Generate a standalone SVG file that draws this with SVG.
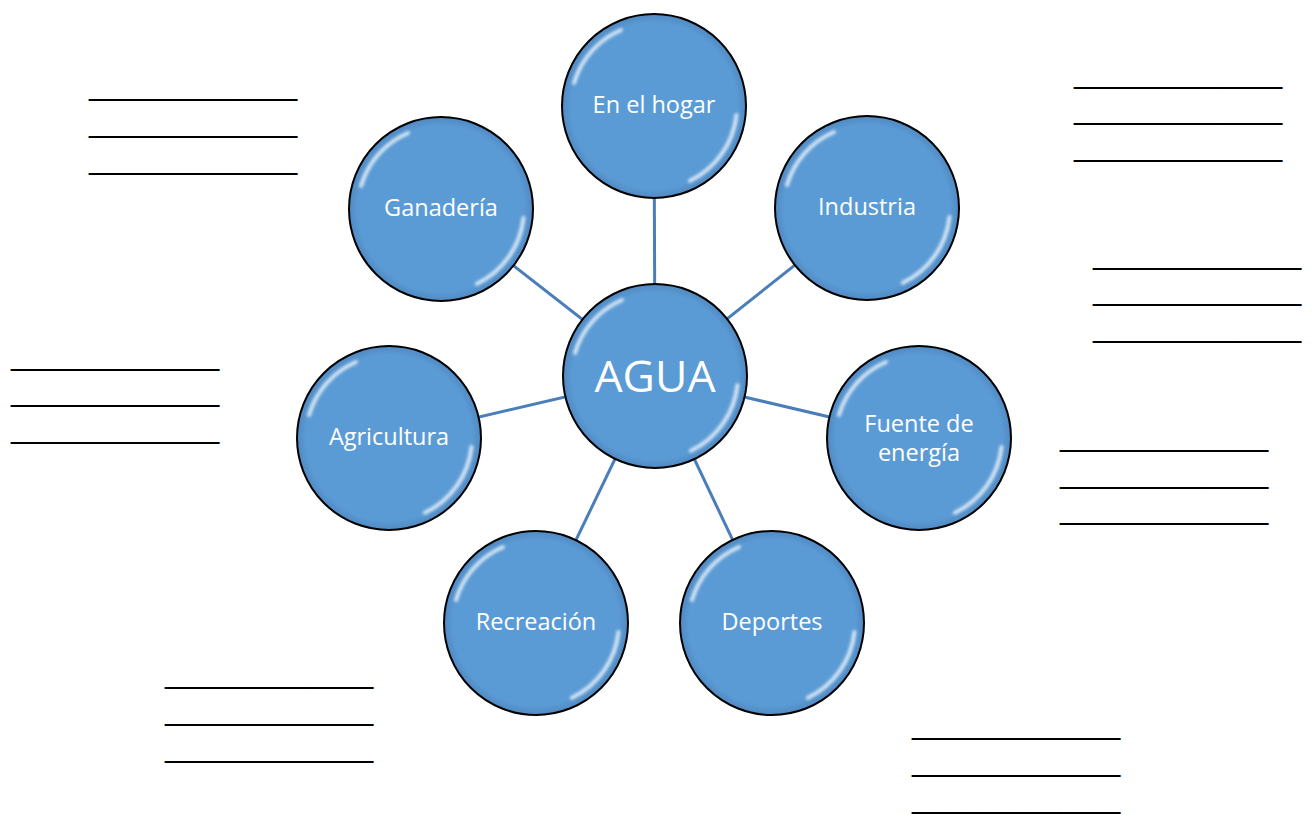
<svg xmlns="http://www.w3.org/2000/svg" xmlns:xlink="http://www.w3.org/1999/xlink" width="1316" height="814" viewBox="0 0 1316 814">
<style>
.conn{stroke:#4a7ebb;stroke-width:3;fill:none}
.ball{fill:url(#ballFill);stroke:#000;stroke-width:2}
.hl{fill:none;stroke:#fff;stroke-width:4;stroke-linecap:round;opacity:0.75;filter:url(#soft)}
.lbl{font-family:"Open Sans","Liberation Sans",sans-serif;font-size:23.5px;fill:#fff;text-anchor:middle}
.big{font-family:"Open Sans","Liberation Sans",sans-serif;font-size:44.5px;fill:#fff;text-anchor:middle}
.blank{font-family:"Liberation Sans",Arial,sans-serif;font-size:28.8px;fill:#000}
</style>
<defs>
<radialGradient id="ballFill" cx="0.5" cy="0.5" r="0.5">
<stop offset="0" stop-color="#5b9bd5"/>
<stop offset="0.9" stop-color="#5b9bd5"/>
<stop offset="1" stop-color="#5089c2"/>
</radialGradient>
<filter id="soft" x="-0.2" y="-0.2" width="1.4" height="1.4"><feGaussianBlur stdDeviation="1.5"/></filter>
<g id="bubble">
<circle class="ball" cx="0" cy="0" r="92"/>
<path class="hl" d="M -80 -23 A 83 83 0 0 1 -33 -76"/>
<path class="hl" d="M 82.5 9 A 83 83 0 0 1 36 74.8"/>
</g>
</defs>
<rect width="1316" height="814" fill="#fff"/>
<g id="connectors">
<line class="conn" x1="655" y1="376" x2="654" y2="106"/>
<line class="conn" x1="655" y1="376" x2="867" y2="208"/>
<line class="conn" x1="655" y1="376" x2="919" y2="438"/>
<line class="conn" x1="655" y1="376" x2="772" y2="623"/>
<line class="conn" x1="655" y1="376" x2="536" y2="623"/>
<line class="conn" x1="655" y1="376" x2="389" y2="438"/>
<line class="conn" x1="655" y1="376" x2="441" y2="209"/>
</g>
<g id="agua"><use xlink:href="#bubble" href="#bubble" x="655" y="376"/><text class="big" x="655" y="392">AGUA</text></g>
<g id="hogar"><use xlink:href="#bubble" href="#bubble" x="654" y="106"/><text class="lbl" x="654" y="113">En el hogar</text></g>
<g id="industria"><use xlink:href="#bubble" href="#bubble" x="867" y="208"/><text class="lbl" x="867" y="215">Industria</text></g>
<g id="fuente"><use xlink:href="#bubble" href="#bubble" x="919" y="438"/><text class="lbl" x="919" y="432">Fuente de</text><text class="lbl" x="919" y="461">energía</text></g>
<g id="deportes"><use xlink:href="#bubble" href="#bubble" x="772" y="623"/><text class="lbl" x="772" y="630">Deportes</text></g>
<g id="recreacion"><use xlink:href="#bubble" href="#bubble" x="536" y="623"/><text class="lbl" x="536" y="630">Recreación</text></g>
<g id="agricultura"><use xlink:href="#bubble" href="#bubble" x="389" y="438"/><text class="lbl" x="389" y="445">Agricultura</text></g>
<g id="ganaderia"><use xlink:href="#bubble" href="#bubble" x="441" y="209"/><text class="lbl" x="441" y="216">Ganadería</text></g>
<g id="blanks">
<text class="blank" x="89" y="95">_____________</text>
<text class="blank" x="89" y="132">_____________</text>
<text class="blank" x="89" y="169">_____________</text>
<text class="blank" x="1074" y="83">_____________</text>
<text class="blank" x="1074" y="119">_____________</text>
<text class="blank" x="1074" y="156">_____________</text>
<text class="blank" x="1093" y="264">_____________</text>
<text class="blank" x="1093" y="300">_____________</text>
<text class="blank" x="1093" y="337">_____________</text>
<text class="blank" x="11" y="365">_____________</text>
<text class="blank" x="11" y="401">_____________</text>
<text class="blank" x="11" y="438">_____________</text>
<text class="blank" x="1060" y="446">_____________</text>
<text class="blank" x="1060" y="483">_____________</text>
<text class="blank" x="1060" y="519">_____________</text>
<text class="blank" x="165" y="683">_____________</text>
<text class="blank" x="165" y="720">_____________</text>
<text class="blank" x="165" y="757">_____________</text>
<text class="blank" x="912" y="734">_____________</text>
<text class="blank" x="912" y="771">_____________</text>
<text class="blank" x="912" y="808">_____________</text>
</g>
</svg>
